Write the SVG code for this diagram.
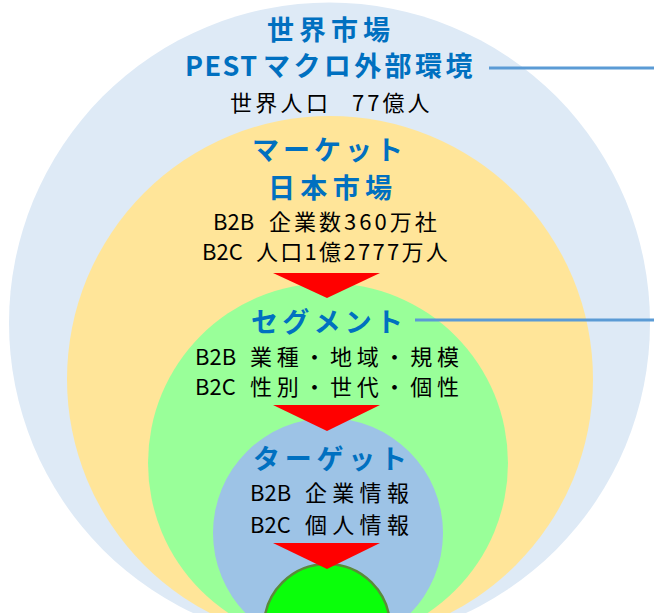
<svg xmlns="http://www.w3.org/2000/svg" width="654" height="613" viewBox="0 0 654 613">
<style>
.h{font-family:"Noto Sans CJK JP","Noto Sans",sans-serif;font-weight:700;fill:#0070C0;text-anchor:middle;font-size:27px}
.t{font-family:"Noto Sans CJK JP","Noto Sans",sans-serif;font-weight:400;fill:#000;font-size:22px}
.ln{stroke:#5B9BD5;stroke-width:3;fill:none}
.arr{fill:#FF0000}
</style>
<rect width="654" height="613" fill="#FFFFFF"/>
<g id="world">
<circle cx="329.5" cy="323" r="320.5" fill="#DEEAF6"/>
<text class="h" x="328.5" y="40" textLength="123" lengthAdjust="spacing">世界市場</text>
<text class="h" style="text-anchor:start" y="76"><tspan x="185" letter-spacing="1.5">PEST</tspan><tspan x="263" letter-spacing="3.4">マクロ外部環境</tspan></text>
<text class="t" font-size="21" y="111"><tspan x="230" letter-spacing="3.3">世界人口 </tspan><tspan x="352" letter-spacing="3">77億人</tspan></text>
</g>
<g id="market">
<circle cx="330" cy="379" r="263" fill="#FFE599"/>
<text class="h" x="327.5" y="160" textLength="151" lengthAdjust="spacing">マーケット</text>
<text class="h" x="330" y="198" textLength="124" lengthAdjust="spacing">日本市場</text>
<text class="t" y="230"><tspan x="213">B2B </tspan><tspan x="269" letter-spacing="3">企業数360万社</tspan></text>
<text class="t" y="260"><tspan x="202">B2C </tspan><tspan x="256" letter-spacing="2.3">人口1億2777万人</tspan></text>
</g>
<g id="segment">
<circle cx="328" cy="463" r="180" fill="#99FF99"/>
<text class="h" x="327" y="332" textLength="152" lengthAdjust="spacing">セグメント</text>
<text class="t" y="365"><tspan x="195">B2B </tspan><tspan x="250" letter-spacing="4.7">業種・地域・規模</tspan></text>
<text class="t" y="395"><tspan x="195">B2C </tspan><tspan x="250" letter-spacing="4.7">性別・世代・個性</tspan></text>
</g>
<g id="target">
<circle cx="328" cy="533" r="115" fill="#9DC3E6"/>
<text class="h" x="330" y="469" textLength="154" lengthAdjust="spacing">ターゲット</text>
<text class="t" y="501"><tspan x="250">B2B </tspan><tspan x="305" letter-spacing="5.3">企業情報</tspan></text>
<text class="t" y="533"><tspan x="250">B2C </tspan><tspan x="305" letter-spacing="5.3">個人情報</tspan></text>
</g>
<g id="core">
<circle cx="327" cy="627" r="63" fill="#0AFF0A" stroke="#5B8A3A" stroke-width="2.5"/>
</g>
<g id="connectors">
<line class="ln" x1="489" y1="68" x2="654" y2="68"/>
<line class="ln" x1="415" y1="320" x2="654" y2="320"/>
<polygon class="arr" points="273,273 380,273 327,298"/>
<polygon class="arr" points="273,405 380,405 327,431"/>
<polygon class="arr" points="273,543 380,543 327,569"/>
</g>
</svg>
